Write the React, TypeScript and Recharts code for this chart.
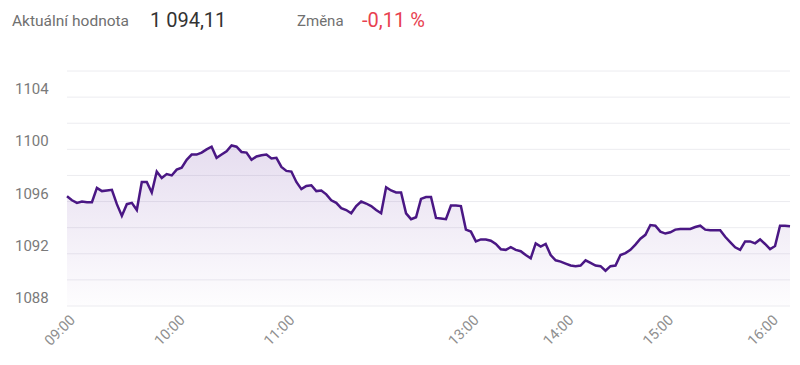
import { Area, AreaChart, CartesianGrid, XAxis, YAxis } from 'recharts'

// index price through the trading day, one reading roughly every 3 minutes
const values = [
  1096.4, 1096.1, 1095.9, 1096.0, 1095.95, 1095.95, 1097.05, 1096.8, 1096.85, 1096.9,
  1095.8, 1094.9, 1095.8, 1095.9, 1095.35, 1097.5, 1097.5, 1096.7, 1098.3, 1097.8,
  1098.1, 1098.0, 1098.45, 1098.6, 1099.2, 1099.6, 1099.6, 1099.75, 1100.0, 1100.2,
  1099.35, 1099.6, 1099.85, 1100.3, 1100.2, 1099.8, 1099.75, 1099.2, 1099.45, 1099.55,
  1099.6, 1099.3, 1099.35, 1098.65, 1098.35, 1098.3, 1097.5, 1096.95, 1097.2, 1097.25,
  1096.8, 1096.85, 1096.55, 1096.1, 1095.9, 1095.5, 1095.35, 1095.1, 1095.65, 1096.0,
  1095.85, 1095.65, 1095.35, 1095.1, 1097.1, 1096.85, 1096.7, 1096.7, 1095.1, 1094.65,
  1094.8, 1096.2, 1096.35, 1096.35, 1094.75, 1094.7, 1094.65, 1095.7, 1095.7, 1095.65,
  1093.85, 1093.7, 1092.95, 1093.1, 1093.1, 1093.0, 1092.75, 1092.35, 1092.3, 1092.5,
  1092.3, 1092.2, 1091.9, 1091.65, 1092.8, 1092.55, 1092.75, 1091.9, 1091.5, 1091.4,
  1091.25, 1091.1, 1091.05, 1091.1, 1091.5, 1091.3, 1091.1, 1091.05, 1090.7, 1091.05,
  1091.1, 1091.9, 1092.05, 1092.3, 1092.7, 1093.15, 1093.45, 1094.2, 1094.15, 1093.7,
  1093.55, 1093.65, 1093.85, 1093.9, 1093.9, 1093.9, 1094.05, 1094.15, 1093.85, 1093.8,
  1093.8, 1093.8, 1093.3, 1092.9, 1092.5, 1092.3, 1092.95, 1092.95, 1092.8, 1093.1,
  1092.75, 1092.35, 1092.6, 1094.15, 1094.15, 1094.11,
]

// hour labels and the reading they sit under
const timeLabels = ['09:00', '10:00', '11:00', '13:00', '14:00', '15:00', '16:00']
const timeIdx = [0, 22, 44, 81, 100, 120, 141]

const yTicks = [1088, 1090, 1092, 1094, 1096, 1098, 1100, 1102, 1104, 1106]
const yLabels = [1088, 1092, 1096, 1100, 1104]

const data = values.map((v, i) => ({ i, v }))

const font = 'Roboto, "Noto Sans", sans-serif'

function YTick(props: any) {
  const { y, payload } = props
  if (!yLabels.includes(payload.value)) return null
  return (
    <text x={15} y={y - 7} dominantBaseline="middle" fontSize={15} fill="#7a7a7a" fontFamily={font}>
      {payload.value}
    </text>
  )
}

function XTick(props: any) {
  const { x, y, payload } = props
  const k = timeIdx.indexOf(payload.value)
  return (
    <g transform={`translate(${x + 9},${y + 7})`}>
      <text x={0} y={0} textAnchor="end" transform="rotate(-45)" fontSize={14.5} fill="#8f8f8f" fontFamily={font}>
        {k >= 0 ? timeLabels[k] : ''}
      </text>
    </g>
  )
}

export default function App() {
  return (
    <div style={{ position: 'absolute', left: 0, top: 0, width: 800, height: 365, background: '#fff', fontFamily: font }}>
      <div style={{ position: 'absolute', left: 12, top: 12, fontSize: 15.5, color: '#707070' }}>Aktuální hodnota</div>
      <div style={{ position: 'absolute', left: 150, top: 8, fontSize: 20, color: '#333' }}>1 094,11</div>
      <div style={{ position: 'absolute', left: 297, top: 12, fontSize: 15, color: '#707070' }}>Změna</div>
      <div style={{ position: 'absolute', left: 362, top: 8, fontSize: 20, color: '#e8414f' }}>-0,11 %</div>
      <div style={{ position: 'absolute', left: 0, top: 0 }}>
        <AreaChart width={800} height={365} data={data} margin={{ top: 71, right: 10, bottom: 0, left: 0 }}>
          <defs>
            <linearGradient id="grad-px" x1="0" y1="0" x2="0" y2="1">
              <stop offset="0%" stopColor="#7c4fae" stopOpacity={0.32} />
              <stop offset="100%" stopColor="#7c4fae" stopOpacity={0.02} />
            </linearGradient>
          </defs>
          <CartesianGrid vertical={false} stroke="#ececf0" />
          <XAxis
            type="number"
            dataKey="i"
            domain={[0, 145]}
            ticks={timeIdx}
            interval={0}
            tick={<XTick />}
            tickLine={false}
            axisLine={false}
            height={59}
          />
          <YAxis
            domain={[1088, 1106]}
            ticks={yTicks}
            interval={0}
            tick={<YTick />}
            tickLine={false}
            axisLine={false}
            width={67}
          />
          <Area
            type="linear"
            dataKey="v"
            stroke="#4a1784"
            strokeWidth={2.5}
            fill="url(#grad-px)"
            baseValue={1088}
            dot={false}
            activeDot={false}
            isAnimationActive={false}
          />
        </AreaChart>
      </div>
    </div>
  )
}
